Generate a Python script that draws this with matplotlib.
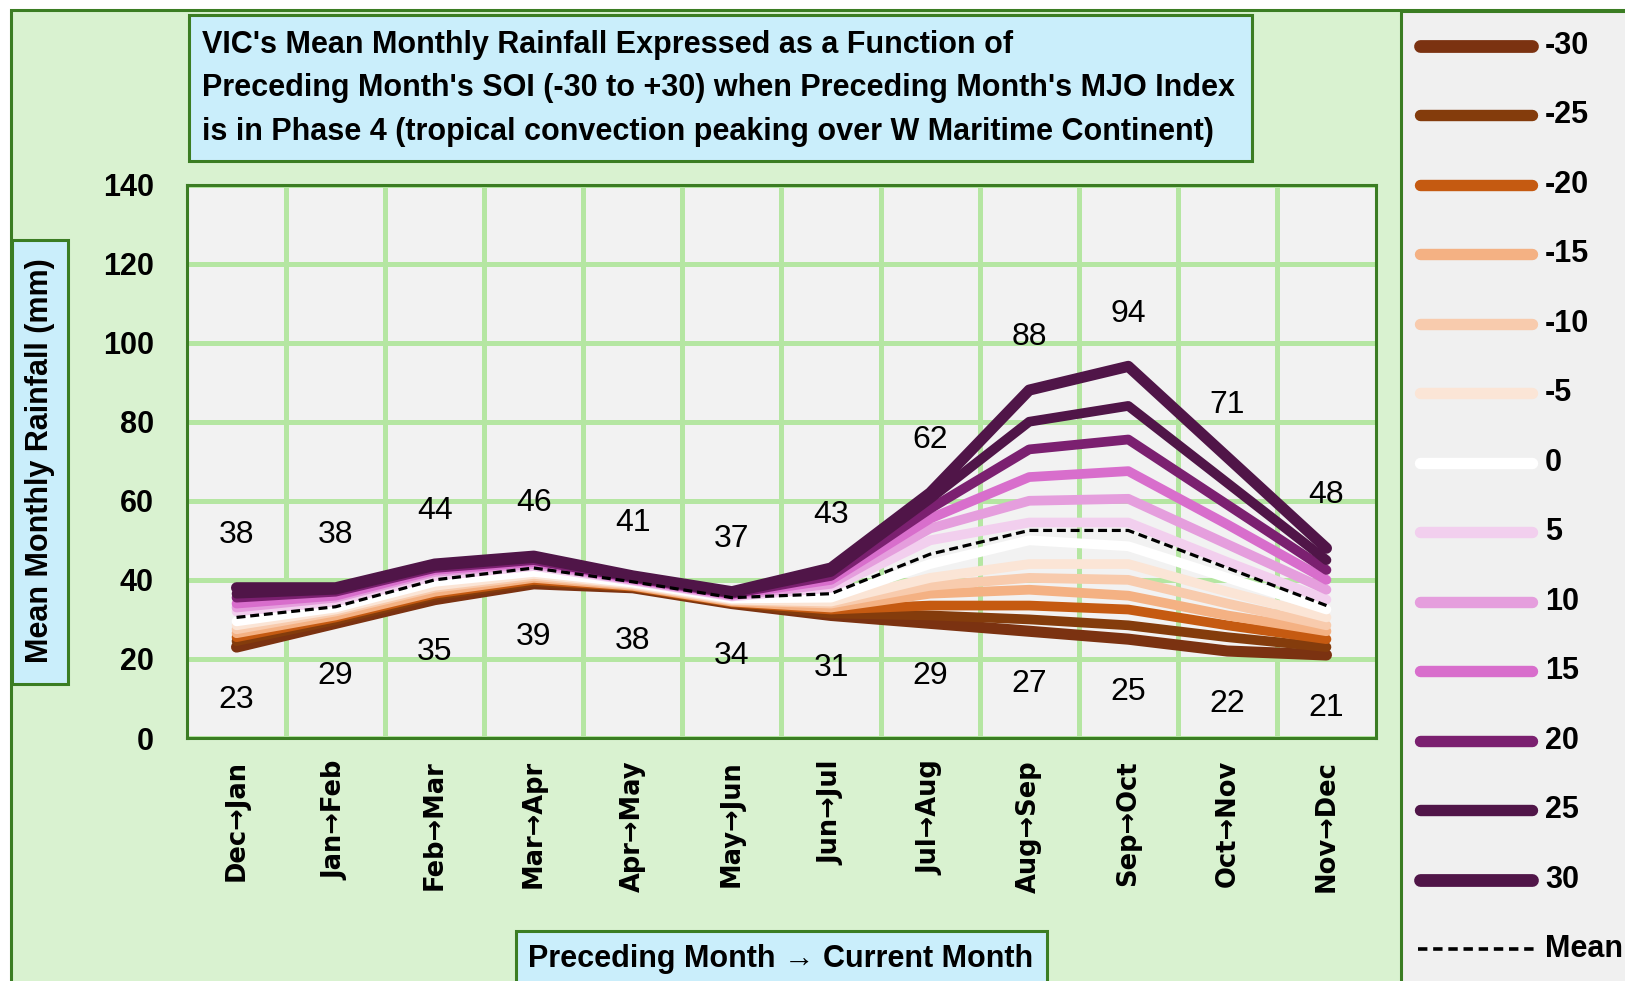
import matplotlib
matplotlib.use("Agg")
import matplotlib.pyplot as plt
from matplotlib.patches import Rectangle

plt.rcParams['font.family'] = ['Liberation Sans', 'DejaVu Sans']

# =========================
# DATA
# =========================
months = ['Dec→Jan', 'Jan→Feb', 'Feb→Mar', 'Mar→Apr', 'Apr→May', 'May→Jun',
          'Jun→Jul', 'Jul→Aug', 'Aug→Sep', 'Sep→Oct', 'Oct→Nov', 'Nov→Dec']

soi_levels = [-30, -25, -20, -15, -10, -5, 0, 5, 10, 15, 20, 25, 30]

soi_m30 = [23, 29, 35, 39, 38, 34, 31, 29, 27, 25, 22, 21]
soi_m25 = [24.5, 29.8, 36, 39.5, 38.1, 34.1, 31.5, 31, 30, 28.5, 25.5, 23]
soi_m20 = [25.5, 30.5, 36.5, 40, 38.3, 34.3, 32.5, 33.5, 33.5, 32.5, 28.5, 25]
soi_m15 = [26.5, 31, 37, 40.5, 38.5, 34.5, 33, 36.5, 37.5, 36, 31, 27]
soi_m10 = [27.5, 32, 38, 41, 38.8, 34.8, 34, 38.5, 40.5, 40, 34, 28.5]
soi_m05 = [28.5, 32.5, 38.5, 41.5, 39, 35, 34.5, 40.5, 44, 44, 37, 30.5]
soi_0 = [29.5, 33, 39.5, 42, 39.3, 35.3, 35.5, 44, 50, 48.5, 40.5, 32.5]
soi_p05 = [32, 34.5, 41, 43.5, 39.8, 35.8, 38, 50, 54.5, 54.5, 44.5, 35]
soi_p10 = [33, 35.5, 42, 44, 40, 36, 39, 53, 60, 60.5, 49, 37.5]
soi_p15 = [34, 36, 42.5, 44.5, 40.3, 36.3, 40, 55.5, 66, 67.5, 54, 40]
soi_p20 = [35.5, 37, 43, 45, 40.5, 36.5, 41, 58, 73, 75.5, 59, 42.5]
soi_p25 = [36.5, 37.5, 43.5, 45.5, 40.8, 36.8, 42, 60.5, 80, 84, 64.5, 45]
soi_p30 = [38, 38, 44, 46, 41, 37, 43, 62, 88, 94, 71, 48]
mean_rain = [30.5, 33.2, 40, 43, 39.5, 35.5, 36.5, 46.5, 52.5, 52.5, 43, 33.5]

series = [soi_m30, soi_m25, soi_m20, soi_m15, soi_m10, soi_m05, soi_0,
          soi_p05, soi_p10, soi_p15, soi_p20, soi_p25, soi_p30]

colors = ['#7B3211', '#843C0C', '#C55A11', '#F4B183', '#F8CBAD', '#FBE5D6', '#FFFFFF',
          '#F2CFEE', '#E59EDD', '#D86ECC', '#7B2070', '#501548', '#501548']
widths = [8 if abs(s) == 30 else 7 for s in soi_levels]

# =========================
# LAYOUT HELPERS (pixels, origin top-left)
# =========================
W, H = 1625, 981
DARK_GREEN = '#3B7D23'


def fx(x):
    return x / W


def fy(y):
    return 1 - y / H


def box(fig, x0, y0, x1, y1, face, lw=2.2, z=-10):
    r = Rectangle((fx(x0), fy(y1)), fx(x1) - fx(x0), fy(y0) - fy(y1),
                  transform=fig.transFigure, facecolor=face,
                  edgecolor=DARK_GREEN, linewidth=lw, zorder=z)
    fig.patches.append(r)


fig = plt.figure(figsize=(W / 100, H / 100), dpi=100, facecolor='white')

# chart background, legend panel, title and axis-title boxes
box(fig, 11, 10, 1700, 1100, '#D9F2D0', z=-20)
box(fig, 1401, 11, 1700, 1100, '#F0F0F0')
box(fig, 189, 15, 1252, 161, '#CAEEFB')
box(fig, 12, 240, 68, 684, '#CAEEFB')
box(fig, 516, 931, 1047, 1100, '#CAEEFB')

title_lines = ["VIC's Mean Monthly Rainfall Expressed as a Function of",
               "Preceding Month's SOI (-30 to +30) when Preceding Month's MJO Index",
               "is in Phase 4 (tropical convection peaking over W Maritime Continent)"]
for i, line in enumerate(title_lines):
    fig.text(fx(202), fy(45 + i * 43.5), line, fontsize=22, fontweight='bold',
             ha='left', va='center')

fig.text(fx(40), fy(461), 'Mean Monthly Rainfall (mm)', fontsize=22, fontweight='bold',
         rotation=90, ha='center', va='center')
fig.text(fx(781), fy(959), 'Preceding Month → Current Month', fontsize=22,
         fontweight='bold', ha='center', va='center')

# =========================
# MAIN PLOT
# =========================
ax = fig.add_axes([fx(187), fy(738), fx(1376) - fx(187), fy(184.5) - fy(738)])
ax.set_facecolor('#F2F2F2')

x = list(range(len(months)))
for vals, c, lw in zip(series, colors, widths):
    ax.plot(x, vals, color=c, lw=lw, solid_capstyle='round',
            solid_joinstyle='round', zorder=3)
ax.plot(x, mean_rain, color='black', lw=2.3, linestyle=(0, (2.8, 1.5)), zorder=4)

for i in x:
    ax.annotate(f"{soi_p30[i]:g}", (i, soi_p30[i]), xytext=(0, 38),
                textcoords='offset points', ha='center', va='center', fontsize=23)
    ax.annotate(f"{soi_m30[i]:g}", (i, soi_m30[i]), xytext=(0, -38),
                textcoords='offset points', ha='center', va='center', fontsize=23)

ax.set_xlim(-0.5, len(months) - 0.5)
ax.set_ylim(0, 140)
ax.set_yticks(range(0, 141, 20))
ax.set_xticks(x)
ax.set_xticklabels(months, rotation=90, fontsize=18.5, fontweight='bold',
                   family=['DejaVu Sans'])
ax.set_xticks([i + 0.5 for i in x[:-1]], minor=True)
for lab in ax.get_yticklabels():
    lab.set_fontsize(22)
    lab.set_fontweight('bold')
ax.tick_params(axis='both', which='both', length=0)
ax.tick_params(axis='y', pad=24)
ax.tick_params(axis='x', pad=16)

ax.set_axisbelow(True)
ax.yaxis.grid(True, color='#B5E6A2', lw=3.6)
ax.xaxis.grid(True, which='minor', color='#B5E6A2', lw=3.6)
for sp in ax.spines.values():
    sp.set_color(DARK_GREEN)
    sp.set_linewidth(2.2)

# =========================
# LEGEND PANEL
# =========================
lax = fig.add_axes([fx(1401), 0, 1 - fx(1401), 1])
lax.set_xlim(1401, W)
lax.set_ylim(H, 0)
lax.axis('off')

row_y = 45.6
for s, c, lw in zip(soi_levels, colors, widths):
    lax.plot([1420, 1532], [row_y, row_y], color=c, lw=lw + 1.2, solid_capstyle='round')
    lax.text(1545, row_y, str(s), fontsize=22, fontweight='bold', ha='left', va='center')
    row_y += 69.5
lax.plot([1418, 1534], [row_y, row_y], color='black', lw=2.6, linestyle=(0, (2.6, 1.6)))
lax.text(1545, row_y, 'Mean', fontsize=22, fontweight='bold', ha='left', va='center')

plt.savefig('out.png', dpi=100)
